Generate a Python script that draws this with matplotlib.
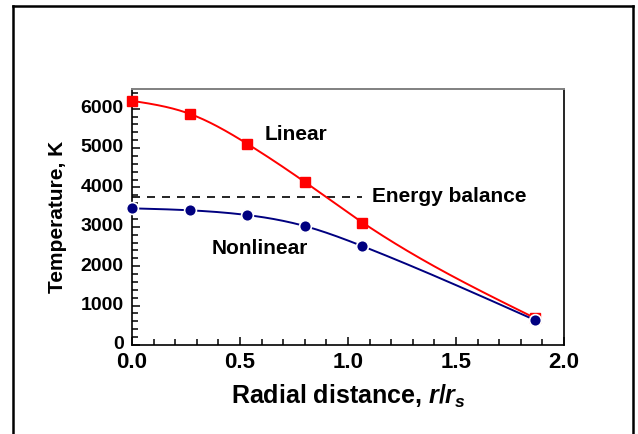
import numpy as np
import matplotlib
matplotlib.use('Agg')
import matplotlib.pyplot as plt
import matplotlib.transforms as mtrans
from matplotlib.lines import Line2D
from matplotlib.ticker import MultipleLocator

plt.rcParams['font.family'] = ['Liberation Sans', 'DejaVu Sans']
plt.rcParams['font.weight'] = 'bold'
plt.rcParams['mathtext.fontset'] = 'custom'
plt.rcParams['mathtext.it'] = 'Liberation Sans:italic:bold'
plt.rcParams['mathtext.rm'] = 'Liberation Sans:bold'

# data
r_pts = [0.0, 0.267, 0.533, 0.8, 1.067, 1.867]
t_linear = [6200, 5870, 5110, 4140, 3110, 680]
t_nonlinear = [3470, 3420, 3300, 3020, 2510, 630]
energy_balance = 3750
energy_r_end = 1.065


def smooth(x, y, n=300):
    # natural cubic spline through the points, only used to draw the line
    x = np.asarray(x, float)
    y = np.asarray(y, float)
    k = len(x)
    h = np.diff(x)
    A = np.zeros((k, k))
    b = np.zeros(k)
    A[0, 0] = A[-1, -1] = 1
    for i in range(1, k - 1):
        A[i, i - 1] = h[i - 1]
        A[i, i] = 2 * (h[i - 1] + h[i])
        A[i, i + 1] = h[i]
        b[i] = 6 * ((y[i + 1] - y[i]) / h[i] - (y[i] - y[i - 1]) / h[i - 1])
    M = np.linalg.solve(A, b)
    xs = np.linspace(x[0], x[-1], n)
    idx = np.clip(np.searchsorted(x, xs) - 1, 0, k - 2)
    x0, x1 = x[idx], x[idx + 1]
    hh = x1 - x0
    ys = (M[idx] * (x1 - xs) ** 3 / (6 * hh) + M[idx + 1] * (xs - x0) ** 3 / (6 * hh)
          + (y[idx] / hh - M[idx] * hh / 6) * (x1 - xs)
          + (y[idx + 1] / hh - M[idx + 1] * hh / 6) * (xs - x0))
    return xs, ys


fig = plt.figure(figsize=(6.38, 4.34), dpi=100)
ax = fig.add_axes([132 / 638, 1 - 345 / 434, 432 / 638, 256 / 434])

red = '#ff0000'
navy = '#000080'

xs, ys = smooth(r_pts, t_linear)
ax.plot(xs, ys, color=red, lw=1.4, zorder=3)
ax.plot(r_pts, t_linear, 's', color=red, ms=7, zorder=4, clip_on=False)

xs, ys = smooth(r_pts, t_nonlinear)
ax.plot(xs, ys, color=navy, lw=1.4, zorder=3)
ax.plot(r_pts, t_nonlinear, 'o', color=navy, ms=8.5, mec='white', mew=1.2,
        zorder=5, clip_on=False)

ax.plot([0, energy_r_end], [energy_balance, energy_balance], color='black',
        lw=1.2, linestyle=(0, (4.8, 4.2)), zorder=2)

ax.text(0.616, 5340, 'Linear', fontsize=15, fontweight='bold', va='center')
ax.text(0.37, 2440, 'Nonlinear', fontsize=15, fontweight='bold', va='center')
ax.text(1.11, 3760, 'Energy balance', fontsize=15, fontweight='bold', va='center')

ax.set_xlim(0, 2.0)
ax.set_ylim(0, 6500)
ax.xaxis.set_major_locator(MultipleLocator(0.5))
ax.xaxis.set_minor_locator(MultipleLocator(0.1))
ax.yaxis.set_major_locator(MultipleLocator(1000))
ax.yaxis.set_minor_locator(MultipleLocator(200))
ax.xaxis.set_major_formatter(plt.FuncFormatter(lambda v, p: '%.1f' % v))
ax.tick_params(which='both', direction='in', top=False, right=False, width=1.1)
ax.tick_params(which='major', length=6)
ax.tick_params(which='minor', length=4)
ax.tick_params(axis='x', labelsize=16, pad=5)
ax.tick_params(axis='y', labelsize=14, pad=6)
shift = mtrans.ScaledTranslation(0, 1.5 / 72, fig.dpi_scale_trans)
for lab in ax.get_yticklabels():
    lab.set_transform(lab.get_transform() + shift)
for lab in ax.get_xticklabels() + ax.get_yticklabels():
    lab.set_fontweight('bold')

for s in ['left', 'bottom', 'right']:
    ax.spines[s].set_color('black')
    ax.spines[s].set_linewidth(1.2)
ax.spines['top'].set_color('#808080')
ax.spines['top'].set_linewidth(1.4)

ax.set_xlabel(r'Radial distance, $r$/$r_s$', fontsize=18, fontweight='bold', labelpad=7)
ax.set_ylabel('Temperature, K', fontsize=15, fontweight='bold', labelpad=10)

# outer frame (open at the bottom)
fx0, fx1, fy = 13 / 638, 633 / 638, 1 - 6 / 434
for xx, yy in [([fx0, fx0], [0, fy]), ([fx0, fx1], [fy, fy]), ([fx1, fx1], [fy, 0])]:
    fig.add_artist(Line2D(xx, yy, color='black', lw=1.8, transform=fig.transFigure))

fig.savefig('out.png', dpi=100)
